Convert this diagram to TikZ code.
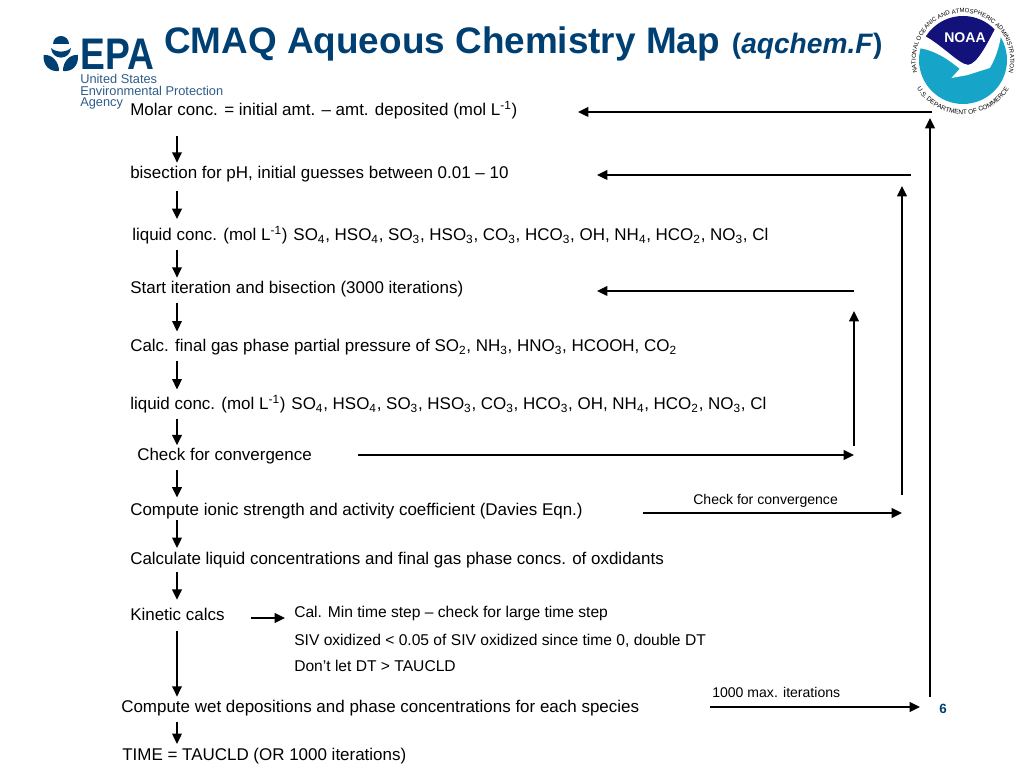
\documentclass[tikz,border=0pt]{standalone}
\usepackage{fontspec}
\setmainfont{Liberation Sans}
\usetikzlibrary{arrows.meta, decorations.text}
\definecolor{epaBlue}{HTML}{003F72}
\definecolor{epaSlate}{HTML}{2F5C88}
\definecolor{noaaNavy}{HTML}{12127A}
\definecolor{noaaTeal}{HTML}{16A5C8}
\newcommand{\sbs}[1]{\textsubscript{#1}}
\newcommand{\sps}[1]{\textsuperscript{#1}}
\tikzset{
  flowarrow/.style = {-{Triangle[length=2.6mm, width=2.4mm]}, line width=1.35pt, black},
  steplbl/.style   = {anchor=west, inner sep=0pt, text height=9.9pt, text depth=1.4pt,
                      font=\fontsize{12.07}{13}\selectfont},
  sidelbl/.style   = {anchor=west, inner sep=0pt, font=\fontsize{11.1}{13}\selectfont},
  notelbl/.style   = {anchor=west, inner sep=0pt, font=\fontsize{10}{12}\selectfont},
  epalbl/.style    = {anchor=west, inner sep=0pt, epaSlate, font=\fontsize{9.1}{10}\selectfont},
  ringlbl/.style   = {decorate, decoration={text along path, text align=center, text={#1}}},
}

\begin{document}
\begin{tikzpicture}
  \useasboundingbox (0,0) rectangle (25.6,19.2);
  % title and page number
  \node[anchor=west, inner sep=0pt, epaBlue, font=\fontsize{26.25}{28}\bfseries\selectfont] (title) at (4.1,18.1)
    {CMAQ Aqueous Chemistry Map\hspace{8.5pt}{\fontsize{20}{22}\selectfont(\textit{aqchem.F})}};
  \node[epaBlue, inner sep=0pt, font=\fontsize{9.5}{11}\bfseries\selectfont] (pagenum) at (23.575,1.475) {6};
  % EPA logo
  \fill[epaBlue] (1.325,18.1) arc[start angle=180, end angle=0, radius=0.2] -- cycle;
  \fill[epaBlue] (1.275,18) .. controls (1.3,17.68) and (1.75,17.68) .. (1.775,18)
    .. controls (1.65,17.88) and (1.4,17.88) .. cycle;
  \fill[epaBlue] (1.09,17.825) .. controls (1.3,17.85) and (1.48,17.65) .. (1.475,17.425)
    .. controls (1.25,17.4) and (1.07,17.55) .. cycle;
  \fill[epaBlue] (1.95,17.825) .. controls (1.74,17.85) and (1.57,17.65) .. (1.575,17.425)
    .. controls (1.8,17.4) and (1.97,17.55) .. cycle;
  \node[anchor=west, inner sep=0pt, epaBlue, xscale=0.84, font=\fontsize{31.5}{33}\bfseries\selectfont] (epaword) at (2,17.85) {EPA};
  \node[epalbl] (epaone) at (2,17.225) {United States};
  \node[epalbl] (epatwo) at (2,16.925) {Environmental Protection};
  \node[epalbl] (epathree) at (2,16.625) {Agency};
  % NOAA logo
  \begin{scope}[shift={(24.075,17.7)}]
    \fill[noaaTeal] (0,0) circle (1.1);
    \fill[white] (-1.12,0.3) .. controls (-0.7,0.25) and (-0.35,0) .. (-0.08,-0.22)
      -- (-0.29,-0.45) -- (0.1,-0.38) -- (0.67,-0.2)
      .. controls (0.85,0.1) and (0.92,0.4) .. (0.96,0.675) -- (0.7,1.1) -- (-0.8,1.1) -- cycle;
    \fill[noaaNavy] (-0.93,0.59) arc[start angle=147.6, end angle=44, radius=1.1]
      .. controls (0.6,0.4) and (0.35,-0.1) .. (0.125,-0.12)
      .. controls (-0.1,-0.1) and (-0.5,0.35) .. cycle;
    \node[white, inner sep=0pt, font=\fontsize{10}{11}\bfseries\selectfont] (noaaword) at (0.05,0.55) {NOAA};
    \path[ringlbl={|\fontsize{4.3}{5}\selectfont|NATIONAL OCEANIC AND ATMOSPHERIC ADMINISTRATION}]
      (200:1.18) arc[start angle=200, end angle=-20, radius=1.18];
    \path[ringlbl={|\fontsize{4.6}{5}\selectfont|U.S. DEPARTMENT OF COMMERCE}]
      (210:1.36) arc[start angle=210, end angle=330, radius=1.36];
  \end{scope}
  % main steps
  \coordinate (spine) at (4.425,0);
  \node[steplbl] (molar) at (3.25,16.45) {Molar conc. = initial amt. – amt. deposited (mol L\sps{-1})};
  \node[steplbl] (bisect) at (3.25,14.875) {bisection for pH, initial guesses between 0.01 – 10};
  \node[steplbl] (liquidA) at (3.3,13.325) {liquid conc. (mol L\sps{-1})\hspace{0.35em}SO\sbs{4}, HSO\sbs{4}, SO\sbs{3}, HSO\sbs{3}, CO\sbs{3}, HCO\sbs{3}, OH, NH\sbs{4}, HCO\sbs{2}, NO\sbs{3}, Cl};
  \node[steplbl] (iterate) at (3.25,12) {Start iteration and bisection (3000 iterations)};
  \node[steplbl] (gasphase) at (3.25,10.55) {Calc. final gas phase partial pressure of SO\sbs{2}, NH\sbs{3}, HNO\sbs{3}, HCOOH, CO\sbs{2}};
  \node[steplbl] (liquidB) at (3.25,9.1) {liquid conc. (mol L\sps{-1})\hspace{0.35em}SO\sbs{4}, HSO\sbs{4}, SO\sbs{3}, HSO\sbs{3}, CO\sbs{3}, HCO\sbs{3}, OH, NH\sbs{4}, HCO\sbs{2}, NO\sbs{3}, Cl};
  \node[steplbl] (check) at (3.425,7.825) {Check for convergence};
  \node[steplbl] (ionic) at (3.25,6.45) {Compute ionic strength and activity coefficient (Davies Eqn.)};
  \node[steplbl] (calcliq) at (3.25,5.225) {Calculate liquid concentrations and final gas phase concs. of oxdidants};
  \node[steplbl] (kinetic) at (3.25,3.825) {Kinetic calcs};
  \node[steplbl] (wetdep) at (3.025,1.525) {Compute wet depositions and phase concentrations for each species};
  \node[steplbl] (timeend) at (3.05,0.325) {TIME = TAUCLD (OR 1000 iterations)};
  % side notes
  \node[sidelbl] (calmin) at (7.35,3.875) {Cal. Min time step – check for large time step};
  \node[sidelbl] (sivox) at (7.35,3.175) {SIV oxidized < 0.05 of SIV oxidized since time 0, double DT};
  \node[sidelbl] (dontlet) at (7.35,2.55) {Don’t let DT > TAUCLD};
  \node[notelbl] (checkside) at (17.325,6.675) {Check for convergence};
  \node[notelbl] (maxiter) at (17.8,1.9) {1000 max. iterations};
  % free ends of the loops
  \coordinate (outertop) at (23.25,16.25);
  \coordinate (outerfoot) at (23.25,1.775);
  \coordinate (outercorner) at (23.3,16.4);
  \coordinate (outerin) at (23,1.525);
  \coordinate (molarin) at (14.45,16.4);
  \coordinate (midstart) at (22.775,14.825);
  \coordinate (bisectin) at (14.925,14.825);
  \coordinate (midtop) at (22.55,14.55);
  \coordinate (midfoot) at (22.55,6.825);
  \coordinate (midin) at (22.55,6.375);
  \coordinate (innerstart) at (21.35,11.925);
  \coordinate (iteratein) at (14.925,11.925);
  \coordinate (innertop) at (21.35,11.425);
  \coordinate (innerfoot) at (21.35,8.05);
  \coordinate (innerin) at (21.35,7.825);
  \coordinate (kineticout) at (6.275,3.75);
  % arrows down the column
  \foreach \a/\b/\s/\e in {molar/bisect/13/1.5, bisect/liquidA/7/5.5, liquidA/iterate/5/1.5,
      iterate/gasphase/4.5/4.5, gasphase/liquidB/4.5/4.5, liquidB/check/4.5/1,
      check/ionic/5/3, ionic/calcliq/1.5/2, calcliq/kinetic/3.5/5, kinetic/wetdep/5.5/1.5,
      wetdep/timeend/5/2}
    \draw[flowarrow, shorten <=\s pt, shorten >=\e pt] (\a.south -| spine) -- (\b.north -| spine);
  % arrows to the right hand loops
  \draw[flowarrow, shorten >=0.225cm] (kineticout) -- (calmin.west |- kineticout);
  \draw[flowarrow, shorten <=1.15cm] (check.east) -- (innerin);
  \draw[flowarrow, shorten <=1.5cm] (ionic.east |- midin) -- (midin);
  \draw[flowarrow, shorten <=1.775cm] (wetdep.east) -- (outerin);
  \draw[flowarrow] (innerfoot) -- (innertop);
  \draw[flowarrow] (innerstart) -- (iteratein);
  \draw[flowarrow] (midfoot) -- (midtop);
  \draw[flowarrow] (midstart) -- (bisectin);
  \draw[flowarrow] (outerfoot) -- (outertop);
  \draw[flowarrow] (outercorner) -- (molarin);
\end{tikzpicture}
\end{document}
